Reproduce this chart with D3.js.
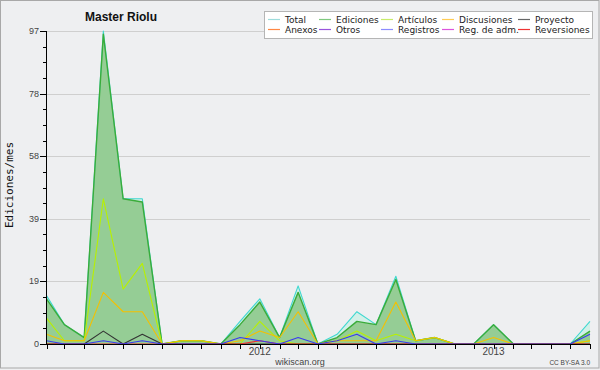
<!DOCTYPE html>
<html><head><meta charset="utf-8">
<script src="https://cdn.jsdelivr.net/npm/d3@7"></script>
<style>body{margin:0;background:#eeeff1;}svg{display:block;}</style>
</head><body>
<svg id="c" width="600" height="370"></svg>
<script>
// ---- data ----
const title = "Master Riolu";
const yLabel = "Ediciones/mes";
const startMonth = "2011-02";
const monthCount = 29;
const total       = [15,6,2,97,45,45,0,1,1,0,7,14,2,18,0,3,10,6,21,1,2,0,0,6,0,0,0,0,7];
const ediciones   = [14,6,2,96,45,44,0,1,1,0,6,13,2,16,0,2,7,6,20,1,2,0,0,6,0,0,0,0,4];
const articulos   = [8,1,1,45,17,25,0,1,1,0,0,7,1,0,0,1,4,1,3,1,2,0,0,0,0,0,0,0,1];
const discusiones = [3,1,1,16,10,10,0,1,1,0,1,4,2,10,0,1,1,1,13,1,2,0,0,2,0,0,0,0,1];
const proyecto    = [0,0,0,4,0,3,0,0,0,0,0,0,0,0,0,0,0,0,0,0,0,0,0,0,0,0,0,0,0];
const anexos      = [0,0,0,0,0,0,0,0,0,0,0,0,0,0,0,0,0,0,0,0,0,0,0,0,0,0,0,0,0];
const otros       = [0,0,0,0,0,0,0,0,0,0,0,0,0,0,0,0,0,0,0,0,0,0,0,0,0,0,0,0,0];
const registros   = [1,0,0,1,0,1,0,0,0,0,2,1,0,2,0,1,3,0,1,0,0,0,0,0,0,0,0,0,3];
const regAdm      = [0,0,0,0,0,0,0,0,0,0,0,0,0,0,0,0,0,0,0,0,0,0,0,0,0,0,0,0,0];
const reversiones = [0,0,0,0,0,0,0,0,0,0,0,1,0,0,0,0,0,0,0,0,0,0,0,0,0,0,0,0,0];
const yMax = 97;
const yTickLabels = ["0","19","39","58","78","97"];
const xTickLabels = ["2012","2013"];
const legendNames = ["Total","Ediciones","Artículos","Discusiones","Proyecto","Anexos","Otros","Registros","Reg. de adm.","Reversiones"];

// ---- setup ----
const svg = d3.select("#c");
const parse = d3.timeParse("%Y-%m");
const t0 = parse(startMonth);
const months = d3.range(monthCount).map(i => d3.timeMonth.offset(t0, i));
const x = d3.scaleTime().domain([months[0], months[monthCount-1]]).range([46.5, 590]);
const y = d3.scaleLinear().domain([0, yMax]).range([344, 31]);

const seriesVals = [total, ediciones, articulos, discusiones, proyecto, anexos, otros, registros, regAdm, reversiones];
const lineColors = ["#3fd8d0","#3aac3a","#b8f000","#f5c000","#333333","#ff7a30","#8040e0","#3a3af0","#e040e0","#f03030"];
const legendColors = ["#9edcdc","#7fc97f","#c8ec6a","#ffcc55","#666666","#ff8844","#9955dd","#8c8cff","#dd55dd","#ee3333"];

svg.append("rect").attr("x",0.5).attr("y",0.5).attr("width",598.5).attr("height",367.5)
  .attr("fill","#eeeff1").attr("stroke","#a8a8a8");

// gridlines
const majorTicks = yTickLabels.map((d,i) => i*yMax/(yTickLabels.length-1));
svg.append("g").selectAll("line").data(majorTicks.slice(1)).join("line")
  .attr("x1",46).attr("x2",590).attr("y1",d=>Math.round(y(d))+0.5).attr("y2",d=>Math.round(y(d))+0.5)
  .attr("stroke","#cfcfcf");

// areas
const area = vals => d3.area().x((d,i)=>x(months[i])).y0(y(0)).y1(d=>y(d))(vals);
svg.append("path").attr("d", area(total)).attr("fill","#d2f0e8");
svg.append("path").attr("d", area(ediciones)).attr("fill","#95cd95");

// lines
const line = vals => d3.line().x((d,i)=>x(months[i])).y(d=>y(d))(vals);
const drawOrder = [0,1,2,3,4,5,6,8,9,7];
drawOrder.forEach(k => {
  const v = seriesVals[k];
  if (d3.max(v) === 0) return;
  svg.append("path").attr("d", line(v)).attr("fill","none")
    .attr("stroke", lineColors[k]).attr("stroke-width", k===1 ? 1.4 : 1.1)
    .attr("stroke-linejoin","round");
});

// axes
const yTicksAll = d3.range(21).map(i => i*yMax/20);
const ax = svg.append("g").attr("shape-rendering","crispEdges");
ax.append("line").attr("x1",46.5).attr("x2",46.5).attr("y1",31).attr("y2",344.5).attr("stroke","#000");
ax.append("line").attr("x1",46).attr("x2",590).attr("y1",344.5).attr("y2",344.5).attr("stroke","#000");
ax.selectAll(".yt").data(yTicksAll).join("line")
  .attr("x1",(d,i)=> i%4===0 ? 40 : 43).attr("x2",46)
  .attr("y1",d=>Math.round(y(d))+0.5).attr("y2",d=>Math.round(y(d))+0.5).attr("stroke","#000");
ax.selectAll(".xt").data(months).join("line")
  .attr("x1",d=>Math.round(x(d))+0.5).attr("x2",d=>Math.round(x(d))+0.5)
  .attr("y1",344).attr("y2",349).attr("stroke","#000");

svg.append("g").selectAll("text").data(yTickLabels).join("text")
  .attr("x",39).attr("y",(d,i)=>y(majorTicks[i])+3)
  .attr("text-anchor","end").attr("font-family","Liberation Sans").attr("font-size","9px")
  .attr("fill","#444").text(d=>d);

const janMonths = months.filter(d => d.getMonth()===0);
svg.append("g").selectAll("text").data(janMonths).join("text")
  .attr("x",d=>x(d)).attr("y",354.5).attr("text-anchor","middle")
  .attr("font-family","Liberation Sans").attr("font-size","10px").attr("fill","#444")
  .text((d,i)=>xTickLabels[i]);

// title, labels
svg.append("text").attr("x",121).attr("y",21).attr("text-anchor","middle")
  .attr("font-family","Liberation Sans").attr("font-weight","bold").attr("font-size","12px")
  .attr("fill","#111").text(title);
svg.append("text").attr("transform","translate(13,185) rotate(-90)").attr("text-anchor","middle")
  .attr("font-family","DejaVu Sans Mono").attr("font-size","11px").attr("fill","#111").text(yLabel);
svg.append("text").attr("x",300).attr("y",365).attr("text-anchor","middle")
  .attr("font-family","Liberation Sans").attr("font-size","9px").attr("fill","#444").text("wikiscan.org");
svg.append("text").attr("x",590).attr("y",365).attr("text-anchor","end")
  .attr("font-family","Liberation Sans").attr("font-size","6.5px").attr("fill","#444").text("CC BY-SA 3.0");

// legend
const lg = svg.append("g");
lg.append("rect").attr("x",264.5).attr("y",11.5).attr("width",328).attr("height",27)
  .attr("fill","#fff").attr("stroke","#b5b5b5");
const colX = [268,319,381,442,518];
const rowY = [19.5,29.5];
legendNames.forEach((name,i) => {
  const cx = colX[i%5], cy = rowY[Math.floor(i/5)];
  lg.append("line").attr("x1",cx).attr("x2",cx+12).attr("y1",cy).attr("y2",cy)
    .attr("stroke",legendColors[i]).attr("stroke-width",1.2);
  lg.append("text").attr("x",cx+17).attr("y",cy+3.5)
    .attr("font-family","DejaVu Sans").attr("font-size","9px").attr("fill","#222").text(name);
});
</script>
</body></html>
